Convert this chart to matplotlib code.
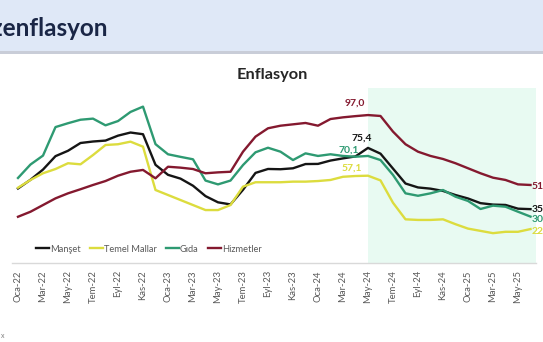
import matplotlib
matplotlib.use("Agg")
import matplotlib.pyplot as plt
from matplotlib.patches import Rectangle
from matplotlib.lines import Line2D

plt.rcParams['font.family'] = ['Lato', 'DejaVu Sans']

# ---- data: annual inflation (%), Jan 2022 - Jun 2025 ----
month_names = ["Oca", "Şub", "Mar", "Nis", "May", "Haz",
               "Tem", "Ağu", "Eyl", "Eki", "Kas", "Ara"]
years = ["22", "23", "24", "25"]
months = [f"{m}-{y}" for y in years for m in month_names][:42]

manset = [48.69, 54.44, 61.14, 69.97, 73.50, 78.62, 79.60, 80.21, 83.45, 85.51, 84.39, 64.27,
          57.68, 55.18, 50.51, 43.68, 39.59, 38.21, 47.83, 58.94, 61.53, 61.36, 61.98, 64.77,
          64.86, 67.07, 68.50, 69.80, 75.40, 71.60, 61.78, 51.97, 49.38, 48.58, 47.09, 44.38,
          42.12, 39.05, 38.10, 37.86, 35.41, 35.10]

temel_mallar = [49.2, 54.3, 58.7, 61.5, 65.3, 64.6, 70.7, 77.3, 77.8, 79.5, 76.2, 47.7,
                44.4, 41.1, 37.8, 34.5, 34.5, 37.8, 49.9, 52.8, 52.8, 52.8, 53.2, 53.2,
                53.6, 54.3, 56.4, 56.9, 57.1, 54.0, 39.3, 28.4, 28.0, 28.0, 28.4, 25.2,
                22.3, 20.8, 19.3, 20.2, 20.2, 22.0]

gida = [55.61, 64.47, 70.33, 89.10, 91.63, 93.93, 94.65, 90.25, 93.05, 99.05, 102.55, 77.87,
        71.2, 69.5, 67.9, 53.9, 51.4, 53.9, 64.1, 72.5, 75.5, 72.9, 67.4, 71.8,
        70.1, 71.2, 70.1, 69.6, 70.1, 67.4, 57.6, 45.5, 43.9, 45.5, 47.7, 43.3,
        40.5, 35.2, 37.4, 36.7, 33.4, 30.2]

hizmetler = [30.1, 33.4, 37.8, 42.2, 45.5, 48.2, 51.0, 53.6, 57.1, 59.7, 60.9, 55.4,
             63.0, 62.4, 61.5, 58.7, 59.3, 59.7, 72.9, 82.8, 88.3, 90.0, 90.9, 91.8,
             90.0, 94.4, 95.5, 96.3, 97.0, 96.4, 86.1, 77.8, 72.9, 70.1, 68.1, 65.3,
             62.0, 58.7, 55.8, 54.3, 51.4, 51.0]

series_names = ["Manşet", "Temel Mallar", "Gıda", "Hizmetler"]
series_values = [manset, temel_mallar, gida, hizmetler]
series_colors = ["#151515", "#dcdc3e", "#2e9a72", "#84192f"]

y_ticks = list(range(0, 111, 10))
highlight_start = 28   # May-24
peak_idx = 28

W, H = 543, 342
fig = plt.figure(figsize=(W / 100, H / 100), dpi=100)
fig.patch.set_facecolor("white")

# slide header band
fig.patches.append(Rectangle((0, 1 - 51 / H), 1, 51 / H, transform=fig.transFigure,
                             facecolor="#dfe8f7", edgecolor="none", zorder=0))
fig.patches.append(Rectangle((0, 1 - 54 / H), 1, 3 / H, transform=fig.transFigure,
                             facecolor="#c9cdd8", edgecolor="none", zorder=0))
fig.text(107 / W, 1 - 29 / H, "Dezenflasyon", ha="right", va="center",
         fontsize=17.5, fontweight="bold", color="#1a2646")

# plot area
left_px, right_px, bottom_px, top_px = 12, 536, 262.5, 87.7
ax = fig.add_axes([left_px / W, 1 - bottom_px / H,
                   (right_px - left_px) / W, (bottom_px - top_px) / H])
ax.set_facecolor("none")
x = list(range(len(months)))
ax.set_xlim(-0.48, 41.44)
ax.set_ylim(0, 115)

ax.axvspan(highlight_start, 41.44, color="#e8faf2", zorder=0, lw=0)

for name, vals, col in zip(series_names, series_values, series_colors):
    ax.plot(x, vals, color=col, lw=1.7, label=name, zorder=3,
            solid_joinstyle="round")

for s in ["top", "right", "left"]:
    ax.spines[s].set_visible(False)
ax.spines["bottom"].set_color("#d9d9d9")
ax.spines["bottom"].set_linewidth(1.0)

ax.set_xticks(x[::2])
ax.set_xticklabels(months[::2], rotation=90, fontsize=6.8, color="#595959")
ax.tick_params(axis="x", length=0, pad=5.5)
ax.set_yticks(y_ticks)
ax.set_yticklabels([str(v) for v in y_ticks], fontsize=6.8, color="#595959")
ax.tick_params(axis="y", length=0, pad=9.8)

# peak labels (May-24)
def fmt(v):
    return f"{v:.1f}".replace(".", ",")

ax.text(peak_idx - 1.05, hizmetler[peak_idx] + 6.3, fmt(hizmetler[peak_idx]),
        color=series_colors[3], fontsize=7.5, fontweight="bold", ha="center")
ax.text(peak_idx - 0.5, manset[peak_idx] + 4.5, fmt(manset[peak_idx]),
        color=series_colors[0], fontsize=7.5, fontweight="bold", ha="center")
ax.text(peak_idx - 1.5, gida[peak_idx] + 2.0, fmt(gida[peak_idx]),
        color=series_colors[2], fontsize=7.5, fontweight="bold", ha="center")
ax.text(peak_idx - 1.3, temel_mallar[peak_idx] + 3.5, fmt(temel_mallar[peak_idx]),
        color=series_colors[1], fontsize=7.5, fontweight="bold", ha="center")

# end-of-series labels
last = len(months) - 1
end_offsets = [0.0, -1.5, -1.5, -1.0]
for vals, col, dy in zip(series_values, series_colors, end_offsets):
    ax.text(last + 0.1, vals[last] + dy, fmt(vals[last]), color=col, fontsize=7.5,
            fontweight="bold", ha="left", va="center", clip_on=False)

fig.text(272 / W, 1 - 75 / H, "Enflasyon", ha="center", va="center",
         fontsize=11.8, fontweight="bold", color="#262626")

handles = [Line2D([], [], color=c, lw=1.7) for c in series_colors]
fig.legend(handles, series_names, loc="center", bbox_to_anchor=(149 / W, 1 - 249 / H),
           ncol=4, frameon=False, fontsize=6.7, labelcolor="#595959",
           handlelength=1.4, handletextpad=0.1, columnspacing=1.0)

fig.text(1 / W, 1 - 335 / H, "x", fontsize=5, color="#7f7f7f", ha="left", va="center")

fig.savefig("out.png", dpi=100)
